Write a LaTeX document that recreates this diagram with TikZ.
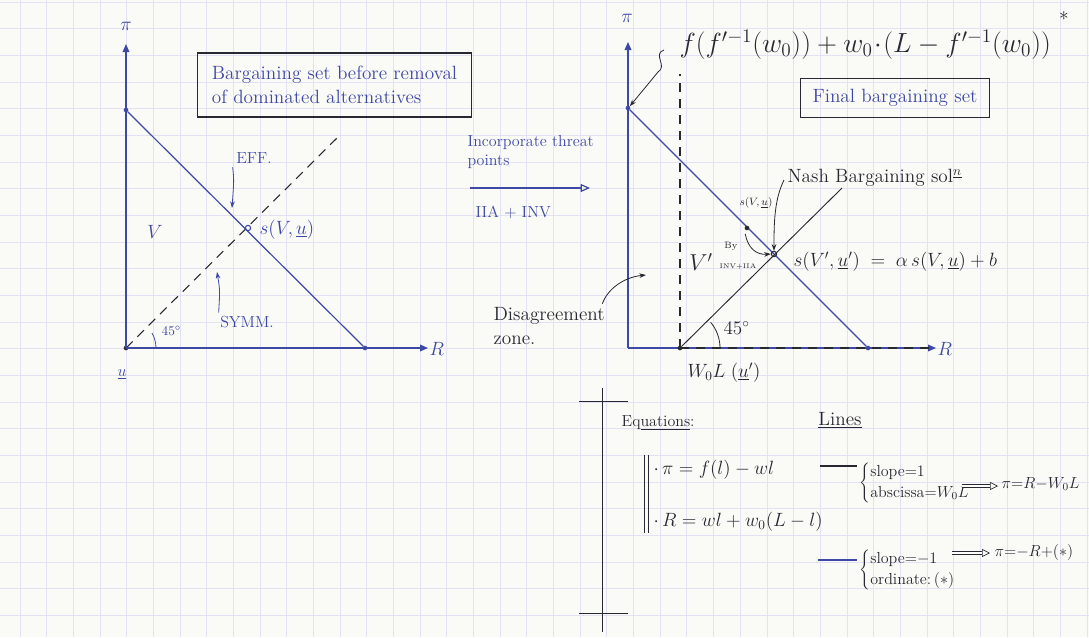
\documentclass[tikz,border=0pt]{standalone}
\usetikzlibrary{arrows.meta}
\definecolor{ink}{RGB}{62,72,165}
\definecolor{pencil}{RGB}{40,40,50}
\definecolor{paper}{RGB}{250,250,246}
\definecolor{gridc}{RGB}{226,226,244}
\begin{document}
\begin{tikzpicture}[x=0.75pt,y=-0.75pt,
  axis/.style={draw=ink,line width=1pt,-{Triangle[length=6pt,width=5pt]}},
  bline/.style={draw=ink,line width=0.9pt},
  kline/.style={draw=pencil,line width=0.7pt},
  dot/.style={circle,fill=#1,inner sep=0pt,minimum size=3.5pt},
  dot/.default=ink,
  odot/.style={circle,draw=#1,line width=0.8pt,inner sep=0pt,minimum size=4pt},
  odot/.default=ink,
  btxt/.style={text=ink,inner sep=1pt},
  ktxt/.style={text=pencil,inner sep=1pt},
  ptr/.style={draw=pencil,line width=0.6pt,-{Stealth[length=5pt,width=3.5pt]}},
  bptr/.style={draw=ink,line width=0.6pt,-{Stealth[length=5pt,width=3.5pt]}},
  framebox/.style={draw=pencil,line width=0.8pt,align=left,inner sep=4pt},
  dashedline/.style={draw=pencil,line width=0.8pt,dash pattern=on 7pt off 5pt},
  implies/.style={draw=pencil,line width=0.5pt,double,double distance=1.5pt,-{Triangle[open,length=6pt,width=6pt]}},
]
\useasboundingbox (0,0) rectangle (1089,637);
\fill[paper] (0,0) rectangle (1089,637);
\foreach \i in {0,...,40} \draw[gridc,line width=0.4pt] ({20+26.67*\i},0) -- ({20+26.67*\i},637);
\foreach \j in {0,...,23} \draw[gridc,line width=0.4pt] (0,{2+26.67*\j}) -- (1089,{2+26.67*\j});

% ---------------- left diagram ----------------
\coordinate (O1) at (126,348);
\coordinate (Y1) at (126,44);
\coordinate (X1) at (428,348);
\coordinate (D1) at (338,137);
\node[dot] (A1) at (126,110) {};
\node[dot] (B1) at (365,348) {};
\node[dot=pencil] (Z1) at (126,348) {};
\draw[dashedline] (O1) -- (D1);
\draw[axis] (O1) -- (Y1);
\draw[axis] (O1) -- (X1);
\draw[bline] (A1) -- (B1);
\node[odot] (S1) at (248,228) {};
\node[btxt,font=\Large] (pi1) at (126,26) {$\pi$};
\node[btxt,font=\Large,anchor=west] (R1) at (428,349) {$R$};
\node[btxt,font=\large] (u1) at (122,374) {$\underline{u}$};
\node[btxt,font=\Large] (V1) at (155,232) {$V$};
\node[btxt,font=\Large,anchor=west] (s1) at (258,230) {$s(V,\underline{u})$};
\node[btxt,font=\large] (eff) at (254,158) {EFF.};
\coordinate (effT) at (232,208);
\draw[bptr] (eff.south west) ++(-2,2) .. controls (234,180) .. (effT);
\node[btxt,font=\large] (symm) at (247,322) {SYMM.};
\coordinate (symT) at (217,272);
\draw[bptr] (symm.north west) ++(0,-2) .. controls (220,290) .. (symT);
\draw[ink,line width=0.6pt] (O1) ++(30,0) arc[start angle=0,end angle=-30,radius=30];
\node[btxt,anchor=west] (ang1) at (160,331) {$45^{\circ}$};
\node[framebox,text=ink,font=\Large,minimum width=206pt,minimum height=48pt] (box1) at (334.5,85) {Bargaining set before removal\\ of dominated alternatives};

% ---------------- middle arrow ----------------
\node[btxt,align=left,anchor=west,font=\large] (inc) at (466,152) {Incorporate threat\\ points};
\coordinate (M0) at (470,188);
\coordinate (M1) at (590,188);
\draw[draw=ink,line width=0.9pt,-{Triangle[open,length=7pt,width=6pt]}] (M0) -- (M1);
\node[btxt,anchor=west,font=\large] (iia) at (474,212) {IIA + INV};

% ---------------- right diagram ----------------
\coordinate (O2) at (628,348);
\coordinate (Y2) at (628,42);
\coordinate (X2) at (936,348);
\coordinate (W0) at (680,348);
\coordinate (Wt) at (680,74);
\coordinate (Wr) at (930,348);
\coordinate (Q2) at (842,188);
\draw[axis] (O2) -- (Y2);
\draw[axis] (O2) -- (X2);
\draw[dashedline] (W0) -- (Wt);
\draw[dashedline] (W0) -- (Wr);
\node[dot] (A2) at (628,108) {};
\node[dot] (B2) at (868,348) {};
\draw[bline] (A2) -- (B2);
\node[dot=pencil] (Z2) at (680,348) {};
\draw[kline] (Z2) -- (Q2);
\node[odot=pencil] (N2) at (774,254) {};
\node[dot=pencil] (S2) at (747,228) {};
\node[btxt,font=\Large] (pi2) at (627,18) {$\pi$};
\node[btxt,font=\Large,anchor=west] (R2) at (936,349) {$R$};
\node[ktxt,font=\huge,anchor=west] (frm) at (678,45) {$f\big(f'^{-1}(w_0)\big)+w_0\!\cdot\!\big(L-f'^{-1}(w_0)\big)$};
\node[ktxt,font=\Large] (star) at (1064,16) {$*$};
\coordinate (sqA) at (664,50);
\draw[ptr] (sqA) .. controls (652,54) and (668,66) .. (658,72) -- (A2.north east);
\node[framebox,text=ink,font=\Large,minimum width=142pt,minimum height=29pt] (box2) at (895,98) {Final bargaining set};
\node[ktxt,font=\footnotesize] (sv2) at (756,203) {$s(V,\underline{u})$};
\node[ktxt,font=\Large,anchor=west] (nash) at (786,178) {Nash Bargaining sol$^{\underline{n}}$};
\draw[ptr] (nash.west) ++(-2,2) .. controls (774,200) and (774,225) .. (N2.north);
\draw[ptr] (S2.south west) ++(0,4) .. controls (748,248) and (756,255) .. (N2.west);
\node[ktxt,font=\LARGE] (V2) at (701,262) {$V'$};
\node[ktxt,font=\scriptsize] (by) at (731,246) {By};
\node[ktxt,font=\tiny] (inv) at (738,267) {INV+IIA};
\node[ktxt,font=\Large,anchor=west] (sol) at (792,262) {$s(V',\underline{u}') \;=\; \alpha\, s(V,\underline{u}) + b$};
\draw[pencil,line width=0.6pt] (W0) ++(40,0) arc[start angle=0,end angle=-40,radius=40];
\node[ktxt,font=\Large,anchor=west] (ang2) at (722,328) {$45^{\circ}$};
\node[ktxt,font=\Large] (w0l) at (724,373) {$W_0L\;(\underline{u}')$};
\node[ktxt,font=\Large,align=left,anchor=west] (dis) at (492,326) {Disagreement\\ zone.};
\coordinate (disT) at (646,275);
\draw[ptr] (dis.north east) ++(-4,-2) .. controls (608,288) and (625,277) .. (disT);

% ---------------- bottom section ----------------
\coordinate (VB0) at (602,388);
\coordinate (VB1) at (602,632);
\coordinate (T0a) at (579,401); \coordinate (T0b) at (628,401);
\coordinate (T1a) at (579,613); \coordinate (T1b) at (628,613);
\draw[kline] (VB0) -- (VB1);
\draw[kline] (T0a) -- (T0b);
\draw[kline] (T1a) -- (T1b);
\node[ktxt,font=\large,anchor=west] (eqs) at (620,423) {Eq\underline{uations}:};
\coordinate (bb0) at (644,455); \coordinate (bb1) at (644,533);
\coordinate (bc0) at (648,455); \coordinate (bc1) at (648,533);
\draw[kline] (bb0) -- (bb1);
\draw[kline] (bc0) -- (bc1);
\node[ktxt,font=\Large,anchor=west] (eq1) at (652,470) {$\cdot\,\pi = f(l) - wl$};
\node[ktxt,font=\Large,anchor=west] (eq2) at (652,522) {$\cdot\,R = wl + w_0(L-l)$};
\node[ktxt,font=\Large] (lines) at (840,420) {\underline{Lines}};
\coordinate (d1a) at (820,466); \coordinate (d1b) at (857,466);
\draw[kline,line width=1pt] (d1a) -- (d1b);
\node[ktxt,anchor=west,font=\large] (br1) at (858,483) {$\left\{\begin{array}{@{}l@{}}\mbox{slope}{=}1\\[2pt] \mbox{abscissa}{=}W_0L\end{array}\right.$};
\coordinate (i1a) at (962,486); \coordinate (i1b) at (998,486);
\draw[implies] (i1a) -- (i1b);
\node[ktxt,font=\large,anchor=west] (r1) at (1000,484) {$\pi{=}R{-}W_0L$};
\coordinate (d2a) at (818,560); \coordinate (d2b) at (857,560);
\draw[bline,line width=1pt] (d2a) -- (d2b);
\node[ktxt,anchor=west,font=\large] (br2) at (858,570) {$\left\{\begin{array}{@{}l@{}}\mbox{slope}{=}{-}1\\[2pt] \mbox{ordinate}{:}\,(*)\end{array}\right.$};
\coordinate (i2a) at (952,553); \coordinate (i2b) at (990,553);
\draw[implies] (i2a) -- (i2b);
\node[ktxt,font=\large,anchor=west] (r2) at (993,552) {$\pi{=}{-}R{+}(*)$};
\end{tikzpicture}
\end{document}
